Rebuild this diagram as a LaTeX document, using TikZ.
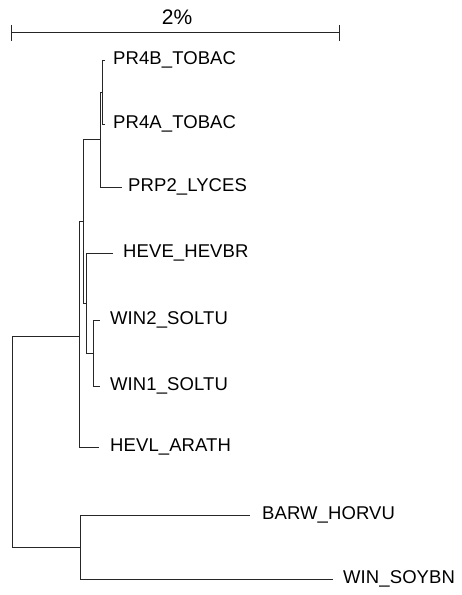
\documentclass[tikz,border=0pt]{standalone}
\usepackage{fontspec}
\newfontfamily\labfont[LetterSpace=0.5]{Liberation Sans}
\begin{document}
\begin{tikzpicture}[x=1pt,y=-1pt,
  branch/.style={draw=black!85,line width=0.8pt},
  leaf/.style={anchor=mid west,inner sep=0pt,yshift=-2pt,font=\labfont\fontsize{18.5}{20}\selectfont,text=black},
  scalelbl/.style={inner sep=0pt,font=\labfont\fontsize{21}{24}\selectfont}]
\useasboundingbox (0,0) rectangle (462,595);
% scale bar
\coordinate (sbL) at (11.7,32.5);
\coordinate (sbR) at (339,32.5);
\coordinate (sbLt) at (11.7,25);
\coordinate (sbLb) at (11.7,41);
\coordinate (sbRt) at (339,25);
\coordinate (sbRb) at (339,41);
\draw[branch] (sbL) -- (sbR);
\draw[branch] (sbLt) -- (sbLb);
\draw[branch] (sbRt) -- (sbRb);
\node[scalelbl] (sblab) at (177,17) {2\%};
% internal nodes
\coordinate (R) at (12.5,441);
\coordinate (N1) at (79.5,336);
\coordinate (N2) at (83,221);
\coordinate (N3) at (100,139.5);
\coordinate (N4) at (102.5,92);
\coordinate (N5) at (86.5,303);
\coordinate (N6) at (93.5,353);
\coordinate (N7) at (80.5,547);
% leaf tips
\coordinate (t1) at (105,60);
\coordinate (t2) at (105,124);
\coordinate (t3) at (122,187);
\coordinate (t4) at (113,253);
\coordinate (t5) at (100,320);
\coordinate (t6) at (100,386);
\coordinate (t7) at (99,447);
\coordinate (t8) at (250,515);
\coordinate (t9) at (333,579);
% labels
\node[leaf] (l1) at ([xshift=8pt]t1) {PR4B\_TOBAC};
\node[leaf] (l2) at ([xshift=8pt]t2) {PR4A\_TOBAC};
\node[leaf] (l3) at ([xshift=6pt]t3) {PRP2\_LYCES};
\node[leaf] (l4) at ([xshift=10pt]t4) {HEVE\_HEVBR};
\node[leaf] (l5) at ([xshift=10pt]t5) {WIN2\_SOLTU};
\node[leaf] (l6) at ([xshift=10pt]t6) {WIN1\_SOLTU};
\node[leaf] (l7) at ([xshift=11pt]t7) {HEVL\_ARATH};
\node[leaf] (l8) at ([xshift=12pt]t8) {BARW\_HORVU};
\node[leaf] (l9) at ([xshift=10pt]t9) {WIN\_SOYBN};
% branches
\draw[branch] (R) |- (N1);
\draw[branch] (R) |- (N7);
\draw[branch] (N1) |- (N2);
\draw[branch] (N1) |- (t7);
\draw[branch] (N2) |- (N3);
\draw[branch] (N2) |- (N5);
\draw[branch] (N3) |- (N4);
\draw[branch] (N3) |- (t3);
\draw[branch] (N4) |- (t1);
\draw[branch] (N4) |- (t2);
\draw[branch] (N5) |- (t4);
\draw[branch] (N5) |- (N6);
\draw[branch] (N6) |- (t5);
\draw[branch] (N6) |- (t6);
\draw[branch] (N7) |- (t8);
\draw[branch] (N7) |- (t9);
\end{tikzpicture}
\end{document}
